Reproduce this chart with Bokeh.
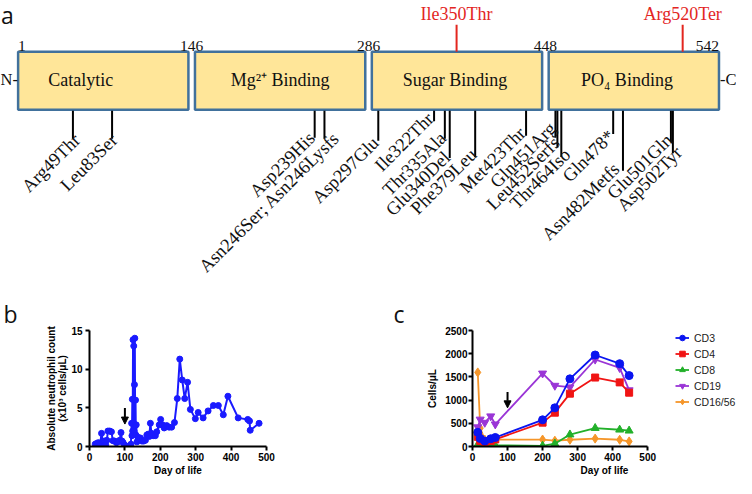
import numpy as np
from bokeh.plotting import figure
from bokeh.layouts import column, row
from bokeh.models import Range1d, Arrow, NormalHead, Legend, LegendItem, FixedTicker
from bokeh.core.properties import value
from bokeh.embed import file_html
from bokeh.resources import INLINE

# ---------------- data ----------------
domain_names = ["Catalytic", "Mg\u00b2\u207a Binding", "Sugar Binding", "PO\u2084 Binding"]
domain_bounds = [1, 146, 286, 448, 542]

top_mut_labels = ["Ile350Thr", "Arg520Ter"]
top_mut_pos = [466, 697]   # position along the drawn schematic

mut_labels = ["Arg49Thr", "Leu83Ser", "Asp239His", "Asn246Ser; Asn246Lysfs", "Asp297Glu",
              "Ile322Thr", "Thr335Ala", "Glu340Del", "Phe379Leu", "Met423Thr", "Gln451Arg",
              "Leu452Serfs", "Thr464Iso", "Gln478*", "Asn482Metfs", "Glu501Gln", "Asp502Tyr"]
mut_pos = [74, 114, 321, 331, 386, 443, 454, 459, 485, 537, 567, 569, 573, 626, 636, 685, 687]
mut_len = [30, 30, 29, 30, 32, 12, 30, 50, 49, 27, 29, 39, 49, 25, 63, 34, 45]
lab_end_x = [82, 120, 322, 347, 387, 443, 456, 460, 487, 537, 568, 572, 583, 628, 633, 687, 697]
lab_end_y = [147, 147, 145, 145, 150, 125, 145, 165, 162, 140, 135, 150, 162, 143, 177, 147, 160]

day_anc = [16, 20, 25, 30, 34, 38, 42, 46, 49, 52, 57, 62, 66, 71, 76, 80, 85, 89, 92, 95,
           99, 103, 108, 113, 117, 119, 120, 121, 122, 123, 124, 125, 126, 127, 128, 129, 130,
           131, 132, 134, 137, 140, 144, 148, 153, 158, 162, 166, 169, 172, 175, 180, 186, 190,
           197, 201, 206, 211, 218, 225, 232, 240, 248, 255, 262, 269, 277, 285, 299, 307, 321,
           335, 350, 364, 378, 391, 420, 447, 452, 454, 479]
anc = [0.3, 0.4, 0.5, 0.3, 1.7, 0.6, 0.7, 0.2, 0.8, 2.0, 2.0, 1.9, 0.75, 0.7, 0.5, 0.6, 0.8,
       1.8, 0.7, 0.5, 0.2, 0.05, 0.0, 0.05, 0.3, 3.0, 1.4, 6.1, 2.0, 13.8, 3.0, 13.0, 2.0, 8.0,
       14.0, 2.7, 6.0, 1.5, 2.8, 0.6, 1.2, 0.9, 1.1, 0.7, 0.7, 0.8, 1.5, 1.6, 1.3, 3.0, 1.7,
       1.4, 1.4, 1.9, 2.8, 3.5, 2.8, 2.4, 2.7, 2.5, 2.5, 3.1, 6.2, 11.3, 8.6, 6.2, 8.3, 4.8,
       3.6, 4.4, 3.7, 4.6, 5.3, 5.3, 4.1, 6.5, 3.7, 3.5, 3.3, 2.1, 3.0]

day_lym = [15, 22, 35, 52, 65, 200, 235, 278, 350, 420, 447]
cd3 = [305, 174, 118, 167, 194, 575, 833, 1458, 1972, 1785, 1528]
cd4 = [208, 118, 83, 118, 153, 514, 729, 1139, 1486, 1382, 1160]
cd8 = [40, 70, 15, 15, 25, 15, 60, 257, 396, 361, 340]
cd19 = [417, 583, 514, 653, 479, 1576, 1312, 1278, 1875, 1694, 1215]
cd1656 = [1597, 396, 150, 150, 150, 150, 125, 145, 170, 145, 110]

treat_day = 100

# ---------------- styles ----------------
SERIF = "Liberation Serif"
SANS = "Liberation Sans"
LETTER = "Open Sans"
BOX_FILL = "#ffe699"
BOX_LINE = "#41719c"
RED = "#e3261f"
DY = 5  # baseline correction for horizontal texts

# ---------------- panel a ----------------
pa = figure(width=736, height=290, x_range=Range1d(0, 752), y_range=Range1d(-300, 0),
            output_backend="svg", toolbar_location=None, min_border=0,
            outline_line_color=None)
pa.axis.visible = False
pa.grid.visible = False

n_dom = len(domain_names)
slot, bw = 180.7, 174
box_l = [18 + slot * i for i in range(n_dom)]
box_r = [l + bw for l in box_l]
box_top, box_bot = 53, 113
pa.quad(left=box_l, right=box_r, top=[-box_top] * n_dom, bottom=[-box_bot] * n_dom,
        fill_color=BOX_FILL, line_color=BOX_LINE, line_width=2.5)
lab_off = [-23, 0, -2, -7]
pa.text(x=[(l + r) / 2 + o for l, r, o in zip(box_l, box_r, lab_off)],
        y=[-(87 - DY)] * n_dom,
        text=domain_names, text_font=value(SERIF), text_font_size="18px",
        text_align="center", text_baseline="alphabetic", text_color="#111111")

num_x = [box_l[0]] + [(box_r[i - 1] + box_l[i]) / 2 for i in range(1, n_dom)] + [box_r[-1]]
num_align = ["left"] + ["center"] * (n_dom - 1) + ["right"]
pa.text(x=num_x, y=[-(52 - DY)] * len(num_x), text=[str(b) for b in domain_bounds],
        text_align=num_align, text_font=value(SERIF), text_font_size="15.5px",
        text_baseline="alphabetic", text_color="#111111")
pa.text(x=[0, 752], y=[-(87 - DY)] * 2, text=["N-", "-C"], text_align=["left", "right"],
        text_font=value(SERIF), text_font_size="16.5px", text_baseline="alphabetic",
        text_color="#111111")

pa.segment(x0=top_mut_pos, x1=top_mut_pos, y0=[-25] * 2, y1=[-box_top] * 2,
           line_color=RED, line_width=2)
pa.text(x=top_mut_pos, y=[-(18.5 - DY)] * 2, text=top_mut_labels, text_color=RED,
        text_font=value(SERIF), text_font_size="18px", text_align="center",
        text_baseline="alphabetic")

bot = [box_bot + L for L in mut_len]
pa.segment(x0=mut_pos, x1=mut_pos, y0=[-box_bot - 1] * len(mut_pos), y1=[-b for b in bot],
           line_color="black", line_width=2)
pa.text(x=[x - 11 for x in lab_end_x], y=[-(y - 13) for y in lab_end_y], text=mut_labels,
        angle=np.pi / 4, text_align="right", text_baseline="top",
        text_font=value(SERIF), text_font_size="18.5px", text_color="#111111")
pa.text(x=[0.5], y=[-15], text=["a"], text_font=value(LETTER), text_font_size="23px",
        text_baseline="alphabetic", text_align="left", text_color="#111111")


def style(p, xt, yt, ystand, letter, letter_off):
    p.grid.visible = False
    p.outline_line_color = None
    for ax in (p.xaxis[0], p.yaxis[0]):
        ax.axis_line_width = 2
        ax.axis_line_color = "black"
        ax.major_tick_line_width = 2
        ax.major_tick_out = 4
        ax.major_tick_in = 0
        ax.minor_tick_line_color = None
        ax.major_label_text_font = SANS
        ax.major_label_text_font_style = "bold"
        ax.major_label_text_font_size = "10px"
        ax.major_label_text_color = "black"
        ax.axis_label_text_font = SANS
        ax.axis_label_text_font_style = "bold"
        ax.axis_label_text_font_size = "10px"
        ax.axis_label_text_color = "black"
        ax.axis_label_text_line_height = 1.0
    p.xaxis.ticker = FixedTicker(ticks=xt)
    p.yaxis.ticker = FixedTicker(ticks=yt)
    p.xaxis.bounds = (xt[0], xt[-1])
    p.yaxis.bounds = (yt[0], yt[-1])
    p.xaxis.major_label_standoff = 2
    p.xaxis.axis_label_standoff = 1
    p.yaxis.major_label_standoff = ystand
    p.title.text = letter
    p.title.align = "left"
    p.title.offset = letter_off
    p.title.standoff = 1
    p.title.text_font = LETTER
    p.title.text_font_size = "23px"
    p.title.text_font_style = "normal"
    p.title.text_color = "#111111"


# ---------------- panel b ----------------
BLUE_B = "#1a1aff"
pb = figure(width=368, height=188, x_range=Range1d(0, 500), y_range=Range1d(0, 15),
            output_backend="svg", toolbar_location=None,
            min_border_left=89, min_border_right=102, min_border_top=39, min_border_bottom=32)
pb.line(day_anc, anc, line_color=BLUE_B, line_width=2)
pb.scatter(day_anc, anc, size=6, color=BLUE_B)
style(pb, [0, 100, 200, 300, 400, 500], [0, 5, 10, 15], 3, "b", -86)
pb.xaxis.axis_label = "Day of life"
pb.yaxis.axis_label = "Absolute neutrophil count\n(x10\u00b3 cells/\u03bcL)"
pb.yaxis.axis_label_standoff = 0
pb.add_layout(Arrow(end=NormalHead(size=7, fill_color="black", line_color="black"),
                    x_start=treat_day, y_start=4.97, x_end=treat_day, y_end=2.9,
                    line_width=2, line_color="black"))

# ---------------- panel c ----------------
pc = figure(width=368, height=188, x_range=Range1d(0, 753.4), y_range=Range1d(0, 2500),
            output_backend="svg", toolbar_location=None,
            min_border_left=104, min_border_right=0, min_border_top=40, min_border_bottom=32)
series = [("CD3", cd3, "#0a14f0", "circle", 8),
          ("CD4", cd4, "#f01414", "square", 7),
          ("CD8", cd8, "#22b02a", "triangle", 8),
          ("CD19", cd19, "#9a35d6", "inverted_triangle", 8),
          ("CD16/56", cd1656, "#f5962a", "diamond", 9)]
rend = {}
for name, vals, col, mk, sz in reversed(series):
    l = pc.line(day_lym, vals, line_color=col, line_width=1.8)
    s = pc.scatter(day_lym, vals, marker=mk, size=sz, color=col)
    rend[name] = [l, s]
style(pc, [0, 100, 200, 300, 400, 500], [0, 500, 1000, 1500, 2000, 2500], 1, "c", -79)
pc.xaxis.axis_label = "Day of life"
pc.yaxis.axis_label = "Cells/\u03bcL"
pc.yaxis.axis_label_standoff = 4
pc.add_layout(Arrow(end=NormalHead(size=7, fill_color="black", line_color="black"),
                    x_start=treat_day, y_start=1175, x_end=treat_day, y_end=833,
                    line_width=2, line_color="black"))
legend = Legend(items=[LegendItem(label=n, renderers=rend[n]) for n, *_ in series],
                location=(203, 37), glyph_width=14, glyph_height=15, label_height=15,
                label_standoff=5, spacing=1, padding=0, margin=0,
                border_line_color=None, background_fill_alpha=0,
                label_text_font=SANS, label_text_font_size="10.5px", label_text_color="#222222")
pc.add_layout(legend)

layout = column(pa, row(pb, pc, spacing=0), spacing=0)
open("out.html", "w").write(file_html(layout, INLINE))
